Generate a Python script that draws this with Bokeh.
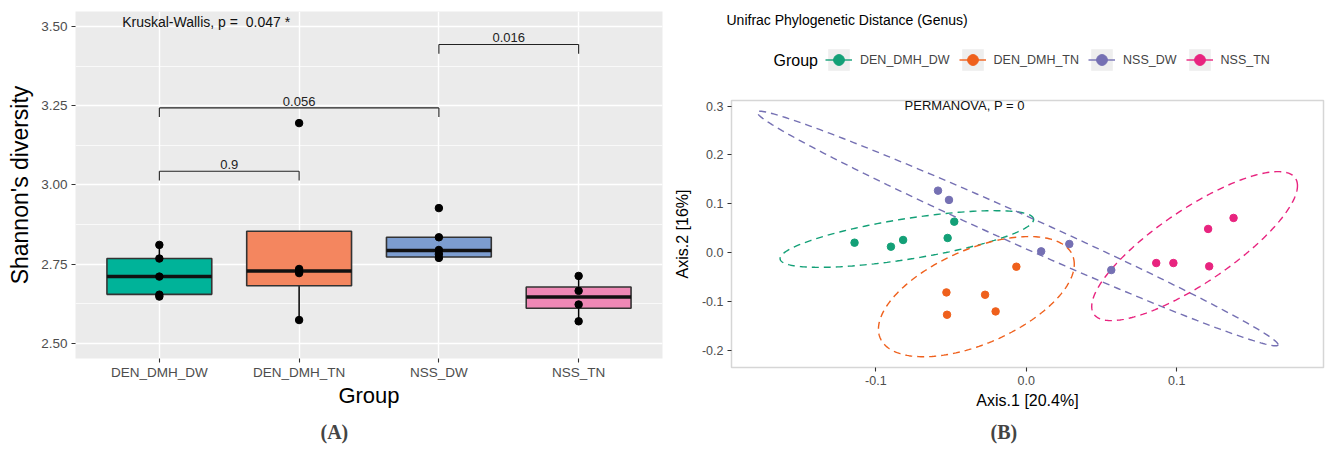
import numpy as np
from bokeh.plotting import figure
from bokeh.models import Range1d, FixedTicker, PrintfTickFormatter, Legend, LegendItem, Title, Label
from bokeh.embed import file_html
from bokeh.resources import INLINE
from bokeh.core.properties import value

FONT = "Liberation Sans"
SERIF = "Liberation Serif"

groups = ["DEN_DMH_DW", "DEN_DMH_TN", "NSS_DW", "NSS_TN"]

# ---------------- Panel A : Shannon diversity ----------------
box_q1 = [2.655, 2.682, 2.773, 2.611]
box_median = [2.711, 2.729, 2.793, 2.647]
box_q3 = [2.768, 2.854, 2.835, 2.678]
whisker_low = [2.648, 2.574, 2.770, 2.570]
whisker_high = [2.811, 2.854, 2.835, 2.713]
box_colors = ["#00B399", "#F4865F", "#7C9DD0", "#EE88B5"]

shannon_group = (["DEN_DMH_DW"] * 5 + ["DEN_DMH_TN"] * 5 +
                 ["NSS_DW"] * 5 + ["NSS_TN"] * 4)
shannon_value = [2.811, 2.768, 2.711, 2.654, 2.648,
                 3.195, 2.735, 2.728, 2.722, 2.574,
                 2.927, 2.835, 2.795, 2.782, 2.770,
                 2.713, 2.666, 2.623, 2.570]

y_ticks_a = [2.50, 2.75, 3.00, 3.25, 3.50]
y_minor_a = [2.625, 2.875, 3.125, 3.375]

cmp_from = ["DEN_DMH_DW", "DEN_DMH_DW", "NSS_DW"]
cmp_to = ["DEN_DMH_TN", "NSS_DW", "NSS_TN"]
cmp_label = ["0.9", "0.056", "0.016"]
cmp_level = [3.043, 3.243, 3.443]
CMP_TIP = 0.029

kw_label = "Kruskal-Wallis, p =\u00a0 0.047 *"
KW_X, KW_Y = 0.734, 3.513

# ---------------- Panel B : Unifrac PCoA ----------------
pcoa_group = (["DEN_DMH_DW"] * 5 + ["DEN_DMH_TN"] * 5 +
              ["NSS_DW"] * 5 + ["NSS_TN"] * 5)
axis1 = [-0.1142, -0.0900, -0.0819, -0.0523, -0.0479,
         -0.0066, -0.0531, -0.0274, -0.0527, -0.0204,
         -0.0587, -0.0514, 0.0099, 0.0286, 0.0565,
         0.0864, 0.0978, 0.1216, 0.1209, 0.1378]
axis2 = [0.0205, 0.0123, 0.0260, 0.0301, 0.0635,
         -0.0287, -0.0813, -0.0861, -0.1270, -0.1202,
         0.1270, 0.1080, 0.0027, 0.0178, -0.0355,
         -0.0212, -0.0212, -0.0280, 0.0486, 0.0711]
# 95% ellipses: centre, half x-extent, half y-extent, correlation term
ell_cx = [-0.0794, -0.0332, -0.0058, 0.1119]
ell_cy = [0.028, -0.090, 0.0495, 0.0135]
ell_rx = [0.0843, 0.0651, 0.1732, 0.0684]
ell_ry = [0.058, 0.123, 0.2401, 0.1525]
ell_rho = [0.69, 0.54, -0.990, 0.81]
pcoa_colors = ["#13A077", "#EF601C", "#7570B3", "#E8247F"]

x_ticks_b = [-0.1, 0.0, 0.1]
y_ticks_b = [-0.2, -0.1, 0.0, 0.1, 0.2, 0.3]
permanova_label = "PERMANOVA, P = 0"
PERM_X, PERM_Y = -0.041, 0.301
title_b = "Unifrac Phylogenetic Distance (Genus)"


def style_axis(ax, size):
    ax.axis_line_color = None
    ax.major_tick_line_color = "#333333"
    ax.major_tick_line_width = 1.1
    ax.major_tick_out = 4
    ax.major_tick_in = 0
    ax.minor_tick_line_color = None
    ax.major_label_text_font = FONT
    ax.major_label_text_font_size = size
    ax.major_label_text_color = "#4D4D4D"
    ax.axis_label_text_font = FONT
    ax.axis_label_text_font_style = "normal"
    ax.axis_label_text_color = "black"


# ======================= Figure A =======================
p1 = figure(width=670, height=450, x_range=Range1d(0.4, 4.6),
            y_range=Range1d(2.4527, 3.547), output_backend="svg",
            toolbar_location=None, min_border_left=75, min_border_right=8,
            min_border_top=11, min_border_bottom=92,
            background_fill_color="#EBEBEB", styles={"float": "left"})
p1.outline_line_color = None

xpos = [groups.index(g) + 1 for g in groups]
p1.xaxis.ticker = FixedTicker(ticks=xpos)
p1.xgrid.ticker = FixedTicker(ticks=xpos)
p1.xaxis.major_label_overrides = {x: g for x, g in zip(xpos, groups)}
p1.yaxis.ticker = FixedTicker(ticks=y_ticks_a, minor_ticks=y_minor_a)
p1.ygrid.ticker = FixedTicker(ticks=y_ticks_a, minor_ticks=y_minor_a)
p1.yaxis.formatter = PrintfTickFormatter(format="%.2f")
for g in (p1.xgrid, p1.ygrid):
    g.grid_line_color = "white"
    g.grid_line_width = 1.4
p1.ygrid.minor_grid_line_color = "white"
p1.ygrid.minor_grid_line_width = 0.7

style_axis(p1.xaxis[0], "13.5px")
style_axis(p1.yaxis[0], "13.5px")
p1.xaxis.axis_label = "Group"
p1.xaxis.axis_label_text_font_size = "22px"
p1.xaxis.major_label_standoff = 2
p1.xaxis.axis_label_standoff = 0
p1.yaxis.axis_label = "Shannon's diversity"
p1.yaxis.axis_label_text_font_size = "23px"
p1.yaxis.major_label_standoff = 4
p1.yaxis.axis_label_standoff = 5

BOX_W = 0.75
p1.segment(x0=xpos, x1=xpos, y0=whisker_low, y1=box_q1, line_color="black", line_width=1.5)
p1.segment(x0=xpos, x1=xpos, y0=box_q3, y1=whisker_high, line_color="black", line_width=1.5)
p1.vbar(x=xpos, bottom=box_q1, top=box_q3, width=BOX_W, fill_color=box_colors,
        line_color="#333333", line_width=1.6)
p1.segment(x0=[x - BOX_W / 2 for x in xpos], x1=[x + BOX_W / 2 for x in xpos],
           y0=box_median, y1=box_median, line_color="#111111", line_width=3.5)
p1.scatter(x=[groups.index(g) + 1 for g in shannon_group], y=shannon_value,
           size=7.5, fill_color="black", line_color="black")

bx0 = [groups.index(g) + 1 for g in cmp_from]
bx1 = [groups.index(g) + 1 for g in cmp_to]
p1.segment(x0=bx0, x1=bx1, y0=cmp_level, y1=cmp_level, line_color="#222222", line_width=1.1)
p1.segment(x0=bx0, x1=bx0, y0=cmp_level, y1=[v - CMP_TIP for v in cmp_level],
           line_color="#222222", line_width=1.1)
p1.segment(x0=bx1, x1=bx1, y0=cmp_level, y1=[v - CMP_TIP for v in cmp_level],
           line_color="#222222", line_width=1.1)
p1.text(x=[(a + b) / 2 for a, b in zip(bx0, bx1)], y=cmp_level, text=cmp_label,
        text_align="center", text_baseline="bottom", y_offset=-2,
        text_font=value(FONT), text_font_size="13px", text_color="#222222")
p1.text(x=[KW_X], y=[KW_Y], text=[kw_label], text_align="left", text_baseline="middle",
        text_font=value(FONT), text_font_size="14px", text_color="#111111")

p1.add_layout(Title(text="(A)", align="left", offset=245, standoff=16,
                    text_font=SERIF, text_font_style="bold", text_font_size="20px"), "below")

# ============ Figure B header: title + legend ============
pl = figure(width=655, height=98, x_range=Range1d(0, 1), y_range=Range1d(0, 1),
            output_backend="svg", toolbar_location=None, min_border=0,
            x_axis_location=None, y_axis_location=None, styles={"float": "left"})
pl.outline_line_color = None
pl.xgrid.visible = False
pl.ygrid.visible = False
# legend proxies (NaN data: drawn only as legend keys)
NAN = [float("nan")]
bg = pl.quad(left=NAN, right=NAN, bottom=NAN, top=NAN, fill_color="#EEEEEE", line_color=None)
items = []
for i, g in enumerate(groups):
    lr = pl.line(x=NAN, y=NAN, line_color=pcoa_colors[i], line_width=1.4)
    sr = pl.scatter(x=NAN, y=NAN, fill_color=pcoa_colors[i], line_color=pcoa_colors[i])
    items.append(LegendItem(label=g, renderers=[bg, lr, sr]))
legend = Legend(items=items, orientation="horizontal", location=(155, 25),
                glyph_width=27, glyph_height=27, label_standoff=8, spacing=9,
                padding=0, margin=0, border_line_color=None,
                background_fill_alpha=0,
                label_text_font=FONT, label_text_font_size="12.5px")
pl.add_layout(legend)
pl.add_layout(Label(x=103, y=38.5, x_units="screen", y_units="screen", text="Group",
                    text_font=FONT, text_font_size="16px", text_baseline="middle",
                    text_color="black"))
pl.add_layout(Label(x=56, y=79, x_units="screen", y_units="screen", text=title_b,
                    text_font=FONT, text_font_size="14px", text_baseline="middle",
                    text_color="black"))

# ======================= Figure B =======================
p2 = figure(width=655, height=352, x_range=Range1d(-0.196, 0.1976),
            y_range=Range1d(-0.235, 0.3115), output_backend="svg",
            toolbar_location=None, min_border_left=56, min_border_right=2,
            min_border_top=2, min_border_bottom=83,
            background_fill_color="white", styles={"float": "left"})
p2.outline_line_color = "#D6D6D6"
p2.outline_line_width = 1.5
p2.xgrid.visible = False
p2.ygrid.visible = False
p2.xaxis.ticker = FixedTicker(ticks=x_ticks_b)
p2.yaxis.ticker = FixedTicker(ticks=y_ticks_b)
p2.xaxis.formatter = PrintfTickFormatter(format="%.1f")
p2.yaxis.formatter = PrintfTickFormatter(format="%.1f")
style_axis(p2.xaxis[0], "12.5px")
style_axis(p2.yaxis[0], "12.5px")
p2.xaxis.axis_label = "Axis.1 [20.4%]"
p2.yaxis.axis_label = "Axis.2 [16%]"
p2.xaxis.axis_label_text_font_size = "16px"
p2.yaxis.axis_label_text_font_size = "16px"
p2.xaxis.major_label_standoff = 4
p2.xaxis.axis_label_standoff = 4
p2.yaxis.major_label_standoff = 4
p2.yaxis.axis_label_standoff = 8

tt = np.linspace(0, 2 * np.pi, 241)
for i, g in enumerate(groups):
    phi = np.arccos(ell_rho[i])
    ex = ell_cx[i] + ell_rx[i] * np.cos(tt)
    ey = ell_cy[i] + ell_ry[i] * np.cos(tt - phi)
    p2.line(ex, ey, line_color=pcoa_colors[i], line_dash="7 5", line_width=1.4)
for i, g in enumerate(groups):
    gx = [a for a, gg in zip(axis1, pcoa_group) if gg == g]
    gy = [b for b, gg in zip(axis2, pcoa_group) if gg == g]
    p2.scatter(gx, gy, size=7.5, fill_color=pcoa_colors[i], line_color=pcoa_colors[i])

p2.text(x=[PERM_X], y=[PERM_Y], text=[permanova_label], text_align="center",
        text_baseline="middle", text_font=value(FONT), text_font_size="13px",
        text_color="#111111")
p2.add_layout(Title(text="(B)", align="left", offset=259, standoff=14,
                    text_font=SERIF, text_font_style="bold", text_font_size="20px"), "below")

open("out.html", "w").write(file_html([p1, pl, p2], INLINE))
